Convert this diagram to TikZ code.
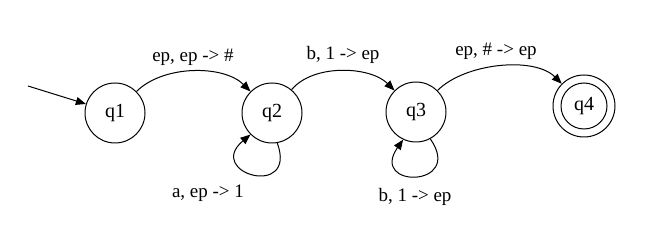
\documentclass[tikz,border=0pt]{standalone}
\usepackage{fontspec}
\setmainfont{Liberation Serif}
\usetikzlibrary{arrows.meta}
\begin{document}
\begin{tikzpicture}[x=1pt,y=-1pt,
  state/.style={draw,circle,line width=1pt,minimum size=60pt,inner sep=0pt,font=\fontsize{20}{24}\selectfont},
  lbl/.style={font=\fontsize{19}{22}\selectfont,inner sep=0pt},
  edge/.style={line width=1pt,-{Triangle[length=10pt,width=8pt]}}]
\useasboundingbox (0,0) rectangle (662,232);
\node[state] (q1) at (115,113) {q1};
\node[state] (q2) at (272,113) {q2};
\node[state] (q3) at (416,112) {q3};
\node[state,minimum size=62pt] (q4) at (584,106) {q4};
\draw[line width=1pt] (q4.center) circle (23);
\coordinate (s) at (28,86);
\draw[edge] (s) -- (q1);
\draw[edge] (q1) to[out=45,in=135,looseness=0.85] (q2);
\draw[edge] (q2) to[out=50,in=135,looseness=0.85] (q3);
\draw[edge] (q3) to[out=45,in=135,looseness=0.8] (q4);
\draw[edge] (q2.-80) .. controls +(70:60) and +(140:60) .. (q2.-135);
\draw[edge] (q3.-62) .. controls +(55:60) and +(125:60) .. (q3.-115);
\node[lbl] (l12) at (193,57) {ep, ep -> \#};
\node[lbl] (l23) at (343,55) {b, 1 -> ep};
\node[lbl] (l34) at (496,51) {ep, \# -> ep};
\node[lbl] (l22) at (208,193) {a, ep -> 1};
\node[lbl] (l33) at (415,197) {b, 1 -> ep};
\end{tikzpicture}
\end{document}
